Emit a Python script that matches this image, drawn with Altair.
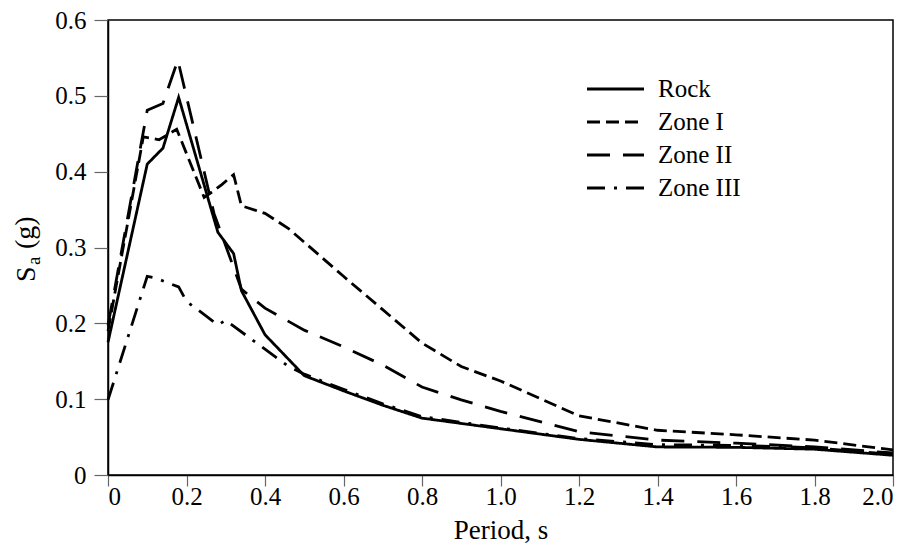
import altair as alt
import pandas as pd

series_names = ["Rock", "Zone I", "Zone II", "Zone III"]

period_rock = [0.0, 0.1, 0.14, 0.18, 0.28, 0.32, 0.34, 0.4, 0.5, 0.6, 0.7, 0.8, 1.0, 1.2, 1.4, 1.6, 1.8, 2.0]
sa_rock = [0.175, 0.41, 0.431, 0.498, 0.32, 0.292, 0.243, 0.185, 0.131, 0.111, 0.092, 0.075, 0.061, 0.047, 0.037, 0.0365, 0.034, 0.026]

period_zone1 = [0.0, 0.09, 0.13, 0.175, 0.245, 0.27, 0.29, 0.32, 0.34, 0.4, 0.46, 0.6, 0.7, 0.8, 0.9, 1.0, 1.2, 1.4, 1.6, 1.8, 2.0]
sa_zone1 = [0.19, 0.446, 0.442, 0.456, 0.366, 0.375, 0.383, 0.396, 0.355, 0.345, 0.325, 0.262, 0.218, 0.174, 0.143, 0.124, 0.078, 0.059, 0.053, 0.046, 0.033]

period_zone2 = [0.0, 0.1, 0.14, 0.178, 0.27, 0.34, 0.4, 0.5, 0.6, 0.7, 0.8, 0.9, 1.0, 1.2, 1.4, 1.6, 1.8, 2.0]
sa_zone2 = [0.197, 0.481, 0.49, 0.547, 0.345, 0.245, 0.22, 0.191, 0.169, 0.145, 0.116, 0.099, 0.084, 0.057, 0.046, 0.042, 0.037, 0.029]

period_zone3 = [0.0, 0.1, 0.12, 0.18, 0.2, 0.28, 0.3, 0.46, 0.5, 0.6, 0.7, 0.8, 1.0, 1.2, 1.4, 1.6, 1.8, 2.0]
sa_zone3 = [0.099, 0.262, 0.26, 0.248, 0.229, 0.198, 0.204, 0.143, 0.133, 0.113, 0.094, 0.077, 0.062, 0.048, 0.040, 0.039, 0.036, 0.027]

x_ticks = [0.0, 0.2, 0.4, 0.6, 0.8, 1.0, 1.2, 1.4, 1.6, 1.8, 2.0]
y_ticks = [0.0, 0.1, 0.2, 0.3, 0.4, 0.5, 0.6]

dash_patterns = [[1, 0], [13, 6], [23, 13], [18, 9, 3, 9]]

rows = []
for name, ps, vs in zip(series_names,
                        [period_rock, period_zone1, period_zone2, period_zone3],
                        [sa_rock, sa_zone1, sa_zone2, sa_zone3]):
    for i, (p, v) in enumerate(zip(ps, vs)):
        rows.append({"series": name, "period": p, "sa": v, "order": i})
df = pd.DataFrame(rows)

FONT = "Liberation Serif"
LW = 2.8

lines = alt.Chart(df).mark_line(color="black", strokeWidth=LW, strokeCap="butt", strokeJoin="miter").encode(
    x=alt.X("period:Q",
            scale=alt.Scale(domain=[0, 2], nice=False, zero=False),
            axis=alt.Axis(values=x_ticks, title="Period, s",
                          labelFont=FONT, titleFont=FONT,
                          labelExpr="datum.value == 0 ? '0' : format(datum.value, '.1f')")),
    y=alt.Y("sa:Q",
            scale=alt.Scale(domain=[0, 0.6], nice=False),
            axis=alt.Axis(values=y_ticks, title=None, labelFont=FONT,
                          labelExpr="datum.value == 0 ? '0' : format(datum.value, '.1f')")),
    strokeDash=alt.StrokeDash("series:N",
                              scale=alt.Scale(domain=series_names, range=dash_patterns),
                              legend=None),
    detail="series:N",
    order="order:Q",
)

one = alt.Chart(df).transform_filter(alt.datum.order == 0).transform_filter(alt.datum.series == "Rock")

# manual legend
legend_layers = []
legend_y0 = 69
legend_dy = 33
for i, name in enumerate(series_names):
    yy = legend_y0 + i * legend_dy
    legend_layers.append(
        one.mark_rule(color="black", strokeWidth=LW, strokeDash=dash_patterns[i], strokeCap="butt").encode(
            x=alt.value(479), x2=alt.value(536), y=alt.value(yy))
    )
    legend_layers.append(
        one.mark_text(font=FONT, fontSize=25, align="left", baseline="middle", color="black").encode(
            x=alt.value(550), y=alt.value(yy), text=alt.value(name))
    )

# y-axis title S_a (g) drawn as rotated text pieces
title_S = one.mark_text(font=FONT, fontSize=28, angle=270, align="left", baseline="alphabetic", color="black").encode(
    x=alt.value(-73), y=alt.value(262), text=alt.value("S"))
title_a = one.mark_text(font=FONT, fontSize=19, angle=270, align="left", baseline="alphabetic", color="black").encode(
    x=alt.value(-68), y=alt.value(245), text=alt.value("a"))
title_g = one.mark_text(font=FONT, fontSize=28, angle=270, align="left", baseline="alphabetic", color="black").encode(
    x=alt.value(-74), y=alt.value(229), text=alt.value("(g)"))

chart = alt.layer(lines, *legend_layers, title_S, title_a, title_g).properties(
    width=785, height=455,
    autosize=alt.AutoSizeParams(type="none"),
    padding={"left": 100, "top": 12, "right": 7, "bottom": 74},
).configure(
    font=FONT
).configure_view(
    stroke="black", strokeWidth=1.5
).configure_axis(
    labelFont=FONT, labelFontSize=25, labelColor="black",
    titleFont=FONT, titleFontSize=27, titleColor="black", titleFontWeight="normal",
    tickColor="#666", tickWidth=1.2,
    domainColor="black", domainWidth=1.5, grid=False,
).configure_axisX(
    tickSize=11, labelPadding=-2, titlePadding=8,
).configure_axisY(
    tickSize=14, labelPadding=8,
)

chart.save("out.html", embed_options={"renderer": "svg", "actions": False})
